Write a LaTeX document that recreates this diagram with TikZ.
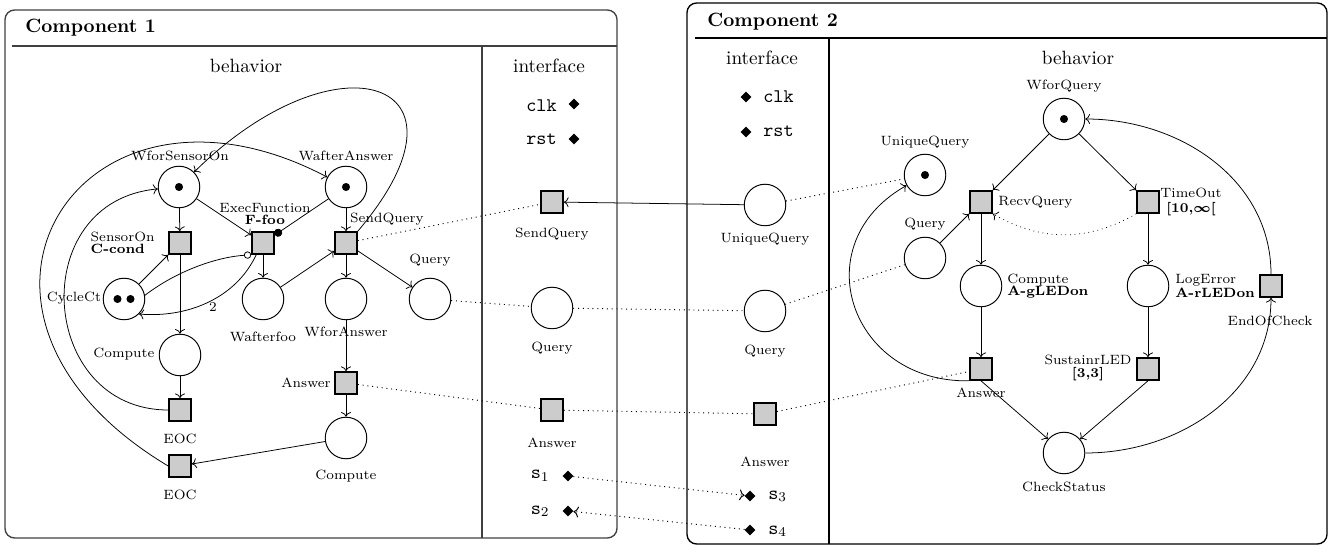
\documentclass[tikz,border=0pt]{standalone}
\usetikzlibrary{arrows.meta,shapes.geometric,calc}
\begin{document}
\begin{tikzpicture}[x=0.52pt,y=-0.52pt,
  place/.style={circle,draw,line width=0.5pt,minimum size=21.6pt,inner sep=0pt},
  trans/.style={rectangle,draw,line width=0.9pt,fill=gray!40,minimum size=11.4pt,inner sep=0pt},
  port/.style={diamond,fill=black,inner sep=0pt,minimum size=5.8pt},
  token/.style={circle,fill=black,inner sep=0pt,minimum size=4.2pt},
  lbl/.style={font=\fontsize{7}{6.3}\selectfont,inner sep=0pt},
  lbll/.style={lbl,align=left},
  lblc/.style={lbl,align=center},
  arc/.style={->,line width=0.4pt},
  link/.style={dotted,line width=0.5pt},
  frame/.style={draw,rounded corners=5pt,line width=0.7pt},
  rule/.style={line width=0.7pt},
  portname/.style={inner sep=0pt,font=\ttfamily},
]
\useasboundingbox (0,0) rectangle (1335,545);

% ---------------- Component 1 ----------------
\draw[frame,draw=black!75] (5,10) rectangle (617,538);
\draw[rule,black!75] (12,46) -- (617,46);
\draw[rule,black!75] (482,46) -- (482,538);
\node[anchor=west,inner sep=0pt,font=\bfseries] (c1title) at (25,28) {Component 1};
\node[inner sep=0pt] (c1beh) at (246,66) {behavior};
\node[inner sep=0pt] (c1int) at (549,66) {interface};

% behavior net
\node[place] (wso) at (179,187) {};
\node[place] (waa) at (346,187) {};
\node[trans] (son) at (180,243) {};
\node[trans] (exf) at (263,243) {};
\node[trans] (sq1) at (346,243) {};
\node[place] (cyc) at (124,299) {};
\node[place] (waf) at (263,299) {};
\node[place] (wfa) at (346,299) {};
\node[place] (qb1) at (430,299) {};
\node[place] (cmpL) at (180,355) {};
\node[trans] (eocA) at (180,410) {};
\node[trans] (ans1) at (346,383) {};
\node[place] (cmpR) at (346,438) {};
\node[trans] (eocB) at (180,466) {};

\node[token] (tk-wso) at (wso) {};
\node[token] (tk-waa) at (waa) {};
\node[token] (tk-cyc1) at ($(cyc)+(-6.5,0)$) {};
\node[token] (tk-cyc2) at ($(cyc)+(6.5,0)$) {};

\node[lbl] (l-wso) at (180,156) {WforSensorOn};
\node[lbl] (l-waa) at (346,156) {WafterAnswer};
\node[lbll,anchor=east] (l-son) at (155,243) {SensorOn\\\textbf{C-cond}};
\node[lblc] (l-exf) at (265,214) {ExecFunction\\\textbf{F-foo}};
\node[lbl] (l-sq1) at (387,219) {SendQuery};
\node[lbl] (l-qb1) at (430,260) {Query};
\node[lbl] (l-cyc) at (74,298) {CycleCt};
\node[lbl] (l-waf) at (263,337) {Wafterfoo};
\node[lbl] (l-wfa) at (346,332) {WforAnswer};
\node[lbl] (l-cmpL) at (124,354) {Compute};
\node[lbl] (l-eocA) at (180,439) {EOC};
\node[lbl] (l-eocB) at (180,495) {EOC};
\node[lbl] (l-ans1) at (306,383) {Answer};
\node[lbl] (l-cmpR) at (346,476) {Compute};

\draw[arc] (wso) -- (son);
\draw[arc] (wso) -- (exf);
\draw[arc] (waa) -- (sq1);
\draw[-{Circle[length=4.2pt]},line width=0.4pt] (waa) -- (exf);
\draw[arc] (cyc) -- (son);
\draw[-{Circle[open,length=3.8pt]},line width=0.4pt]
  (cyc.10) .. controls (178,270) and (218,257) .. (exf.south west);
\draw[arc] (exf.-120) .. controls (235,300) and (185,318) .. (cyc.-45)
  node[lbl,pos=0.45,below=1pt] (l-two) {2};
\draw[arc] (son) -- (cmpL);
\draw[arc] (exf) -- (waf);
\draw[arc] (waf) -- (sq1);
\draw[arc] (sq1) -- (wfa);
\draw[arc] (sq1) -- (qb1);
\draw[arc] (wfa) -- (ans1);
\draw[arc] (ans1) -- (cmpR);
\draw[arc] (cmpR) -- (eocB);
\draw[arc] (cmpL) -- (eocA);
\draw[arc] (eocA.west) .. controls (38,410) and (25,201) .. (wso);
\draw[arc] (eocB.west) .. controls (-89,312) and (80,47) .. (waa);
\draw[arc] (sq1.north east) .. controls (487,79) and (337,31) .. (wso);

% interface of component 1
\node[trans] (sqi1) at (552,202) {};
\node[place] (qi1) at (552,308) {};
\node[trans] (ai1) at (552,410) {};
\node[port] (clk1) at (574,104) {};
\node[port] (rst1) at (574,139) {};
\node[port] (s1) at (568,476) {};
\node[port] (s2) at (568,511) {};
\node[portname,anchor=base east] (t-clk1) at (557,111.5) {clk};
\node[portname,anchor=base east] (t-rst1) at (557,145) {rst};
\node[inner sep=0pt,anchor=base east] (t-s1) at (550,478.5) {$\mathtt{s}_1$};
\node[inner sep=0pt,anchor=base east] (t-s2) at (550,514) {$\mathtt{s}_2$};
\node[lbl] (l-sqi1) at (552,234) {SendQuery};
\node[lbl] (l-qi1) at (552,348) {Query};
\node[lbl] (l-ai1) at (552,443) {Answer};

\draw[link] (sq1) -- (sqi1);
\draw[link] (qb1) -- (qi1);
\draw[link] (ans1) -- (ai1);

% ---------------- Component 2 ----------------
\draw[frame] (687,3) rectangle (1327,544);
\draw[rule] (695,38) -- (1327,38);
\draw[rule] (829,38) -- (829,544);
\node[anchor=west,inner sep=0pt,font=\bfseries] (c2title) at (707,22) {Component 2};
\node[inner sep=0pt] (c2int) at (762,58) {interface};
\node[inner sep=0pt] (c2beh) at (1078,58) {behavior};

% interface of component 2
\node[port] (clk2) at (746,97) {};
\node[port] (rst2) at (746,132) {};
\node[portname,anchor=base west] (t-clk2) at (763,103) {clk};
\node[portname,anchor=base west] (t-rst2) at (763,137) {rst};
\node[place] (uqi) at (765,205) {};
\node[place] (qi2) at (765,311) {};
\node[trans] (ai2) at (765,414) {};
\node[port] (s3) at (750,496) {};
\node[port] (s4) at (750,530) {};
\node[inner sep=0pt,anchor=base west] (t-s3) at (768,499) {$\mathtt{s}_3$};
\node[inner sep=0pt,anchor=base west] (t-s4) at (768,534) {$\mathtt{s}_4$};
\node[lbl] (l-uqi) at (765,239) {UniqueQuery};
\node[lbl] (l-qi2) at (765,351) {Query};
\node[lbl] (l-ai2) at (765,462) {Answer};

% behavior net
\node[place] (wfq) at (1064,119) {};
\node[place] (uq) at (925,175) {};
\node[trans] (rq) at (981,202) {};
\node[trans] (tout) at (1148,202) {};
\node[place] (q2) at (925,258) {};
\node[place] (cmp2) at (981,286) {};
\node[place] (le) at (1148,286) {};
\node[trans] (eoc2) at (1271,286) {};
\node[trans] (ans2) at (981,369) {};
\node[trans] (sus) at (1148,369) {};
\node[place] (cs) at (1064,453) {};

\node[token] (tk-wfq) at (wfq) {};
\node[token] (tk-uq) at (uq) {};

\node[lbl] (l-wfq) at (1064,86) {WforQuery};
\node[lbl] (l-uq) at (925,142) {UniqueQuery};
\node[lbl,anchor=west] (l-rq) at (998,202) {RecvQuery};
\node[lblc,font=\fontsize{7}{7.6}\selectfont] (l-tout) at (1191,202)
  {TimeOut\\{\bfseries\boldmath[10,$\infty$[}};
\node[lbl] (l-q2) at (925,224) {Query};
\node[lbll,anchor=west] (l-cmp2) at (1007,286) {Compute\\\textbf{A-gLEDon}};
\node[lbll,anchor=west] (l-le) at (1175,286) {LogError\\\textbf{A-rLEDon}};
\node[lbl] (l-eoc2) at (1270,321) {EndOfCheck};
\node[lblc] (l-sus) at (1088,368) {SustainrLED\\\textbf{[3,3]}};
\node[lbl] (l-ans2) at (981,393) {Answer};
\node[lbl] (l-cs) at (1064,487) {CheckStatus};

\draw[arc] (wfq) -- (rq);
\draw[arc] (wfq) -- (tout);
\draw[arc] (q2) -- (rq);
\draw[arc] (rq) -- (cmp2);
\draw[arc] (tout) -- (le);
\draw[arc] (cmp2) -- (ans2);
\draw[arc] (le) -- (sus);
\draw[arc] (ans2.south) -- (cs);
\draw[arc] (sus.south) -- (cs);
\draw[arc] (cs) to[out=0,in=-90] (eoc2);
\draw[arc] (eoc2) to[out=90,in=0] (wfq);
\draw[arc] (ans2.south west) .. controls (850,383) and (803,244) .. (uq);
\draw[arc,dotted] (tout.south west) to[bend left=30] (rq.south east);

\draw[link] (uqi) -- (uq);
\draw[link] (qi2) -- (q2);
\draw[link] (ai2) -- (ans2);

% ---------------- links between the components ----------------
\draw[arc] (uqi) -- (sqi1);
\draw[link] (qi1) -- (qi2);
\draw[link] (ai1) -- (ai2);
\draw[link,->] (s1) -- (s3);
\draw[link,->] (s4) -- (s2);
\end{tikzpicture}
\end{document}
